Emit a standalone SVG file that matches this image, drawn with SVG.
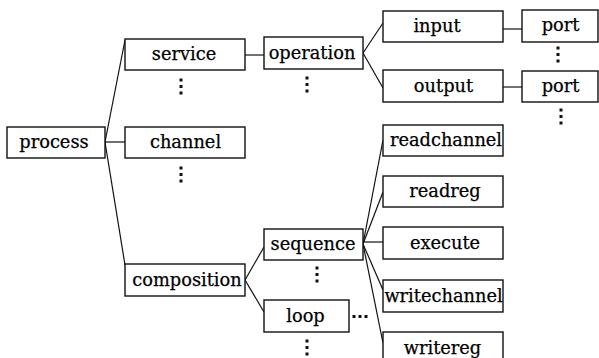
<svg xmlns="http://www.w3.org/2000/svg" width="599" height="358" viewBox="0 0 599 358">
<style>
.box rect{fill:#fff;stroke:#111;stroke-width:1.4}
.box text{font-family:'DejaVu Serif',serif;font-size:17.8px;fill:#000;stroke:#000;stroke-width:0.25;text-anchor:middle}
#connectors line{stroke:#111;stroke-width:1.2;fill:none}
.dots rect{fill:#111}
</style>
<rect width="599" height="358" fill="#fff"/>
<g id="connectors">
<line x1="105" y1="142" x2="125" y2="40"/>
<line x1="105" y1="142" x2="125" y2="142"/>
<line x1="105" y1="142" x2="125" y2="265"/>
<line x1="245" y1="55" x2="264" y2="55"/>
<line x1="363" y1="53" x2="383" y2="23"/>
<line x1="363" y1="53" x2="383" y2="88"/>
<line x1="503" y1="29" x2="522" y2="29"/>
<line x1="503" y1="87" x2="522" y2="87"/>
<line x1="245" y1="280" x2="264" y2="247"/>
<line x1="245" y1="280" x2="264" y2="312"/>
<line x1="363" y1="244" x2="383" y2="140"/>
<line x1="363" y1="244" x2="383" y2="192"/>
<line x1="363" y1="242" x2="383" y2="242"/>
<line x1="363" y1="244" x2="383" y2="290"/>
<line x1="363" y1="244" x2="383" y2="343"/>
</g>
<g id="process" class="box"><rect x="7" y="127" width="98" height="31"/><text x="54" y="148">process</text></g>
<g id="service" class="box"><rect x="125" y="39" width="120" height="31"/><text x="184" y="60">service</text></g>
<g id="channel" class="box"><rect x="125" y="127" width="120" height="31"/><text x="185.5" y="148">channel</text></g>
<g id="composition" class="box"><rect x="125" y="264" width="120" height="32"/><text x="187" y="286">composition</text></g>
<g id="operation" class="box"><rect x="264" y="37" width="99" height="32"/><text x="312" y="59">operation</text></g>
<g id="sequence" class="box"><rect x="264" y="229" width="99" height="31"/><text x="313" y="250">sequence</text></g>
<g id="loop" class="box"><rect x="264" y="300" width="85" height="32"/><text x="305.5" y="322">loop</text></g>
<g id="input" class="box"><rect x="383" y="11" width="120" height="31"/><text x="437" y="32">input</text></g>
<g id="output" class="box"><rect x="383" y="70" width="120" height="32"/><text x="443.5" y="92">output</text></g>
<g id="port1" class="box"><rect x="522" y="10" width="76" height="32"/><text x="560.5" y="31">port</text></g>
<g id="port2" class="box"><rect x="522" y="71" width="76" height="31"/><text x="560.5" y="92">port</text></g>
<g id="readchannel" class="box"><rect x="383" y="125" width="120" height="31"/><text x="446" y="146">readchannel</text></g>
<g id="readreg" class="box"><rect x="383" y="176" width="120" height="31"/><text x="445" y="197">readreg</text></g>
<g id="execute" class="box"><rect x="383" y="227" width="120" height="32"/><text x="445" y="249">execute</text></g>
<g id="writechannel" class="box"><rect x="383" y="280" width="120" height="32"/><text x="443.5" y="302">writechannel</text></g>
<g id="writereg" class="box"><rect x="383" y="332" width="120" height="32"/><text x="442.5" y="354">writereg</text></g>
<g class="dots">
<rect x="179.5" y="78.5" width="3" height="3"/><rect x="179.5" y="85" width="3" height="3"/><rect x="179.5" y="91.5" width="3" height="3"/>
<rect x="179.5" y="166.5" width="3" height="3"/><rect x="179.5" y="173" width="3" height="3"/><rect x="179.5" y="179.5" width="3" height="3"/>
<rect x="305.5" y="76.5" width="3" height="3"/><rect x="305.5" y="83" width="3" height="3"/><rect x="305.5" y="89.5" width="3" height="3"/>
<rect x="556.5" y="46.5" width="3" height="3"/><rect x="556.5" y="53" width="3" height="3"/><rect x="556.5" y="59.5" width="3" height="3"/>
<rect x="559.5" y="108.5" width="3" height="3"/><rect x="559.5" y="115" width="3" height="3"/><rect x="559.5" y="121.5" width="3" height="3"/>
<rect x="315.5" y="266.5" width="3" height="3"/><rect x="315.5" y="273" width="3" height="3"/><rect x="315.5" y="279.5" width="3" height="3"/>
<rect x="305.5" y="339.5" width="3" height="3"/><rect x="305.5" y="346" width="3" height="3"/><rect x="305.5" y="352.5" width="3" height="3"/>
<rect x="352.5" y="315" width="3" height="3"/><rect x="358.5" y="315" width="3" height="3"/><rect x="364.5" y="315" width="3" height="3"/>
</g>
</svg>
